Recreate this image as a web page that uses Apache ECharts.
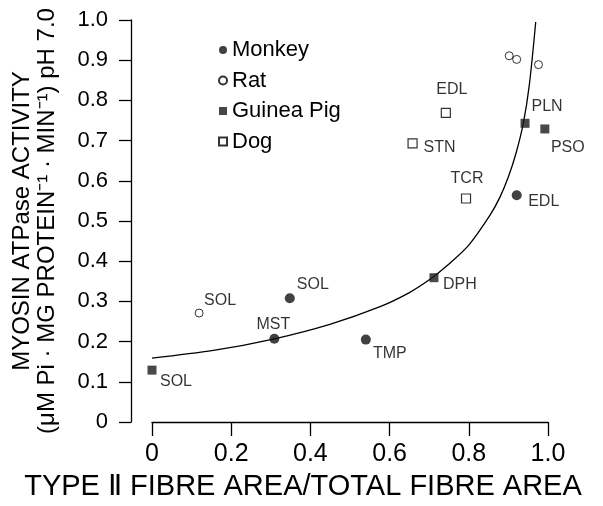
<!DOCTYPE html>
<html>
<head>
<meta charset="utf-8">
<script src="https://cdn.jsdelivr.net/npm/echarts@6/dist/echarts.min.js"></script>
<style>html,body{margin:0;padding:0;background:#fff;}#chart{width:603px;height:506px;}</style>
</head>
<body>
<div id="chart"></div>
<script>
// ---- data ----
const xTicks = [0, 0.2, 0.4, 0.6, 0.8, 1.0];
const yTicks = [0, 0.1, 0.2, 0.3, 0.4, 0.5, 0.6, 0.7, 0.8, 0.9, 1.0];

const monkeyX = [0.309, 0.348, 0.540, 0.921];
const monkeyY = [0.207, 0.308, 0.205, 0.564];
const monkeyLabels = ['MST', 'SOL', 'TMP', 'EDL'];

const ratX = [0.119, 0.902, 0.921, 0.976];
const ratY = [0.271, 0.911, 0.902, 0.889];
const ratLabels = ['SOL', '', '', ''];

const guineaX = [0.000, 0.712, 0.942, 0.992];
const guineaY = [0.129, 0.359, 0.743, 0.729];
const guineaLabels = ['SOL', 'DPH', 'PLN', 'PSO'];

const dogX = [0.658, 0.742, 0.793];
const dogY = [0.693, 0.769, 0.556];
const dogLabels = ['STN', 'EDL', 'TCR'];

const curveX = [0, 0.155, 0.309, 0.449, 0.576, 0.650, 0.702, 0.744, 0.800, 0.854, 0.879, 0.900, 0.919, 0.938, 0.953, 0.969];
const curveY = [0.159, 0.178, 0.207, 0.243, 0.287, 0.322, 0.355, 0.388, 0.440, 0.515, 0.560, 0.610, 0.668, 0.745, 0.840, 0.995];

// ---- label placement (styling, pixel offsets from mark centre) ----
const monkeyLabelOffsets = [[-1, -14], [23, -14], [24, 14], [27, 6]];
const ratLabelOffsets = [[21, -12], [0, 0], [0, 0], [0, 0]];
const guineaLabelOffsets = [[24, 11], [26, 7], [22, -17], [23, 19]];
const dogLabelOffsets = [[27, 4], [6, -23], [1, -20]];

const FONT = "'Liberation Sans', Arial, sans-serif";

function pts(xs, ys, labels, offsets) {
  return xs.map((x, i) => ({
    value: [x, ys[i]],
    label: {
      show: !!labels[i],
      formatter: labels[i],
      position: 'inside',
      offset: offsets[i],
      color: '#000',
      fontSize: 16,
      fontFamily: FONT
    }
  }));
}

const fmt = v => (v === 0 ? '0' : v.toFixed(1));

const chart = echarts.init(document.getElementById('chart'), null, { renderer: 'canvas' });
chart.setOption({
  animation: false,
  backgroundColor: '#fff',
  textStyle: { fontFamily: FONT },
  grid: { left: 152, right: 55, top: 20, bottom: 78, containLabel: false },
  legend: {
    data: ['Monkey', 'Rat', 'Guinea Pig', 'Dog'],
    orient: 'vertical',
    left: 213,
    top: 34,
    itemWidth: 8,
    itemHeight: 8,
    itemGap: 8.5,
    textStyle: { fontSize: 22, lineHeight: 22, color: '#000', fontFamily: FONT },
    selectedMode: false
  },
  xAxis: {
    type: 'value',
    min: xTicks[0],
    max: xTicks[xTicks.length - 1],
    interval: 0.2,
    splitLine: { show: false },
    axisLine: { show: true, onZero: false, lineStyle: { color: '#000', width: 1.3 } },
    axisTick: { show: true, length: 14, lineStyle: { color: '#000', width: 1.3 } },
    axisLabel: { formatter: fmt, fontSize: 25, color: '#000', margin: 20, fontFamily: FONT },
    name: 'TYPE Ⅱ FIBRE AREA/TOTAL FIBRE AREA',
    nameLocation: 'middle',
    nameGap: 50,
    nameTextStyle: { fontSize: 29, color: '#000', fontFamily: FONT, padding: [0, 94, 0, 0] }
  },
  yAxis: {
    type: 'value',
    min: yTicks[0],
    max: yTicks[yTicks.length - 1],
    interval: 0.1,
    offset: 21,
    splitLine: { show: false },
    axisLine: { show: true, onZero: false, lineStyle: { color: '#000', width: 1.3 } },
    axisTick: { show: true, length: 12, lineStyle: { color: '#000', width: 1.3 } },
    axisLabel: { formatter: fmt, fontSize: 22, color: '#000', margin: 23, fontFamily: FONT },
    name: 'MYOSIN ATPase ACTIVITY\n(μM Pi · MG PROTEIN⁻¹ · MIN⁻¹) pH 7.0',
    nameLocation: 'middle',
    nameRotate: 90,
    nameGap: 71,
    nameTextStyle: { fontSize: 24, lineHeight: 25, color: '#000', fontFamily: FONT }
  },
  series: [
    {
      name: 'fit',
      type: 'line',
      data: curveX.map((x, i) => [x, curveY[i]]),
      showSymbol: false,
      symbol: 'none',
      smooth: 0.3,
      lineStyle: { color: '#000', width: 1.3 },
      silent: true,
      z: 1
    },
    {
      name: 'Monkey',
      type: 'scatter',
      symbol: 'circle',
      symbolSize: 10,
      itemStyle: { color: '#111' },
      data: pts(monkeyX, monkeyY, monkeyLabels, monkeyLabelOffsets),
      clip: false,
      z: 3
    },
    {
      name: 'Rat',
      type: 'scatter',
      symbol: 'circle',
      symbolSize: 8,
      itemStyle: { color: '#fff', borderColor: '#000', borderWidth: 1 },
      data: pts(ratX, ratY, ratLabels, ratLabelOffsets),
      clip: false,
      z: 3
    },
    {
      name: 'Guinea Pig',
      type: 'scatter',
      symbol: 'rect',
      symbolSize: 9,
      itemStyle: { color: '#1a1a1a' },
      data: pts(guineaX, guineaY, guineaLabels, guineaLabelOffsets),
      clip: false,
      z: 3
    },
    {
      name: 'Dog',
      type: 'scatter',
      symbol: 'rect',
      symbolSize: 9,
      itemStyle: { color: '#fff', borderColor: '#000', borderWidth: 1.2 },
      data: pts(dogX, dogY, dogLabels, dogLabelOffsets),
      clip: false,
      z: 3
    }
  ]
});
</script>
</body>
</html>
